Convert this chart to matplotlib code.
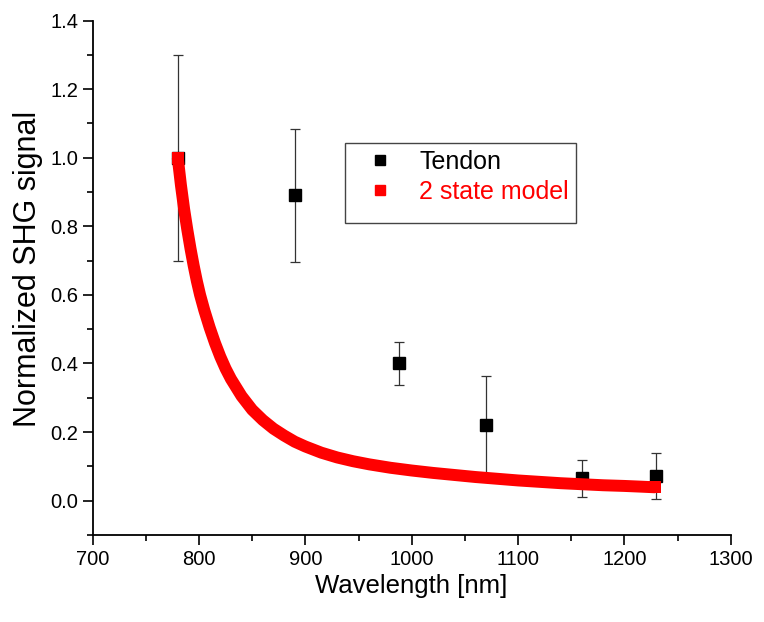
import matplotlib
matplotlib.use("Agg")
import matplotlib.pyplot as plt
from matplotlib.lines import Line2D
from matplotlib.patches import Rectangle
from matplotlib.ticker import MultipleLocator, FormatStrFormatter

plt.rcParams['font.family'] = ['Liberation Sans', 'DejaVu Sans']

# measured SHG signal (tendon)
tendon_wl = [780, 890, 988, 1070, 1160, 1230]
tendon_sig = [1.0, 0.89, 0.40, 0.22, 0.065, 0.072]
tendon_err = [0.30, 0.195, 0.063, 0.145, 0.054, 0.066]

# 2 state model curve
model_wl = [780, 783, 786, 789, 792, 795, 798, 801, 805, 810, 815, 820, 825,
            830, 835, 840, 845, 850, 860, 870, 880, 890, 900, 915, 930, 945,
            960, 980, 1000, 1020, 1040, 1060, 1080, 1100, 1120, 1140, 1160,
            1180, 1200, 1215, 1229]
model_sig = [1.00, 0.92, 0.85, 0.79, 0.735, 0.685, 0.64, 0.60, 0.555, 0.505,
             0.46, 0.42, 0.385, 0.355, 0.33, 0.305, 0.285, 0.265, 0.235, 0.21,
             0.19, 0.172, 0.158, 0.14, 0.126, 0.115, 0.106, 0.096, 0.088,
             0.081, 0.075, 0.069, 0.064, 0.059, 0.055, 0.051, 0.048, 0.045,
             0.043, 0.041, 0.039]

fig = plt.figure(figsize=(7.64, 6.22), dpi=100)
ax = fig.add_axes([0.1213, 0.1399, 0.8351, 0.8271])

ax.errorbar(tendon_wl, tendon_sig, yerr=tendon_err, fmt='s', color='black',
            ecolor='#333333', elinewidth=0.9, capsize=3.7, capthick=0.9,
            markersize=8, zorder=2)
ax.plot(model_wl, model_sig, color='red', lw=8.6, solid_capstyle='butt',
        solid_joinstyle='round', marker='s', markersize=8.6, markevery=[0, -1],
        markeredgewidth=0, zorder=3)

ax.set_xlim(700, 1300)
ax.set_ylim(-0.1, 1.4)
ax.xaxis.set_major_locator(MultipleLocator(100))
ax.xaxis.set_minor_locator(MultipleLocator(50))
ax.yaxis.set_major_locator(MultipleLocator(0.2))
ax.yaxis.set_minor_locator(MultipleLocator(0.1))
ax.yaxis.set_major_formatter(FormatStrFormatter('%.1f'))
ax.spines['top'].set_visible(False)
ax.spines['right'].set_visible(False)
for s in ['left', 'bottom']:
    ax.spines[s].set_linewidth(1.3)
ax.tick_params(which='major', direction='out', length=7, width=1.2,
               labelsize=14.5)
ax.tick_params(which='minor', direction='out', length=4, width=1.2)

ax.set_xlabel('Wavelength [nm]', fontsize=18.5, labelpad=4)
ax.set_ylabel('Normalized SHG signal', fontsize=22, labelpad=5)
ax.yaxis.label.set_y(0.517)

# legend frame
ax.add_patch(Rectangle((0.3955, 0.606), 0.362, 0.156, transform=ax.transAxes,
                       fill=False, edgecolor='#444444', lw=1.0, zorder=5))
handles = [Line2D([], [], marker='s', color='black', ls='none', markersize=7),
           Line2D([], [], marker='s', color='red', ls='none', markersize=7)]
ax.legend(handles, ['Tendon', '2 state model'], loc='upper left',
          bbox_to_anchor=(0.4157, 0.768), frameon=False, fontsize=18,
          labelcolor=['black', 'red'], handlelength=1.0, handletextpad=1.05,
          labelspacing=0.25, borderaxespad=0)

fig.savefig('out.png', dpi=100)
